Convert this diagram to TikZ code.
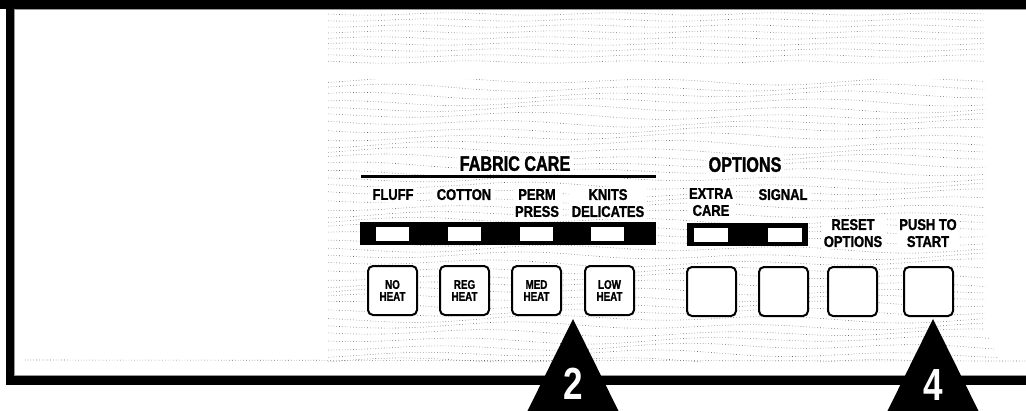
\documentclass[tikz,border=0pt]{standalone}
\usepackage{fontspec}
\setmainfont{Liberation Sans}
\newfontfamily\lblfont{Liberation Sans}[FakeStretch=0.83,FakeBold=1.3]
\newfontfamily\hdrfont{Liberation Sans}[FakeStretch=0.77,FakeBold=1.5]
\newfontfamily\btnfont{Liberation Sans}[FakeStretch=0.78,FakeBold=1.2]
\newfontfamily\digfont{Liberation Sans}[FakeStretch=0.78]
\tikzset{
  frame/.style={fill=black},
  texline/.style={draw=black!60, line width=0.6pt, dash pattern=on 0.6pt off 2.2pt},
  lbl/.style={font=\lblfont\bfseries\fontsize{15.6}{17}\selectfont, align=center, inner sep=2.5pt, fill=white, text depth=0pt},
  hdr/.style={font=\hdrfont\bfseries\fontsize{21}{22}\selectfont, inner sep=3pt, fill=white, text depth=0pt},
  btn/.style={draw=black, line width=2pt, fill=white, rounded corners=5pt, minimum width=49pt, minimum height=49pt, inner sep=0pt,
              font=\btnfont\bfseries\fontsize{12.6}{12}\selectfont, align=center},
  ledbar/.style={fill=black, inner sep=0pt},
  led/.style={fill=white, inner sep=0pt, minimum width=33pt, minimum height=14pt},
  pointer/.style={fill=black},
  digit/.style={font=\digfont\bfseries\fontsize{45}{45}\selectfont, text=white, inner sep=0pt, text depth=0pt}
}
\begin{document}
\begin{tikzpicture}[x=1pt,y=-1pt]
\useasboundingbox (0,0) rectangle (1026,410);
% texture: upper band
\begin{scope}
  \clip (328,12) rectangle (985,63);
  \foreach \k in {0,...,8} {
    \pgfmathsetmacro\yy{14+6*\k}
    \draw[texline] plot[smooth, domain=328:985, samples=40] (\x,{\yy+1.2*sin(2.2*\x+40*\k)});
  }
\end{scope}
% texture: lower band
\begin{scope}
  \clip (328,79) -- (985,79) -- (985,330) -- (1000,362) -- (328,362) -- cycle;
  \foreach \k in {0,...,40} {
    \pgfmathsetmacro\yy{81+7*\k}
    \draw[texline] plot[smooth, domain=328:1000, samples=60] (\x,{\yy+2.6*sin(1.5*\x+37*\k)+1.5*sin(0.6*\x+71*\k)});
  }
\end{scope}
\coordinate (dl) at (25,360);
\coordinate (dr) at (1026,361);
\draw[texline] (dl) -- (dr);
% frame
\fill[frame] (0,0) rectangle (1026,9);
\fill[frame] (6,0) rectangle (14,385);
\fill[frame] (6,376) rectangle (1026,385);
\draw[black!40, line width=0.6pt] (1026,9.6) -- (14.6,9.6) -- (14.6,375.4) -- (1026,375.4);
% headers
\node[hdr] (fabric) at (515,163.5) {FABRIC CARE};
\node[hdr] (options) at (745,164.5) {OPTIONS};
\fill[black] (361,174.5) rectangle (656,177.5);
% labels
\node[lbl] (fluff) at (393,194.5) {FLUFF};
\node[lbl] (cotton) at (464,194.5) {COTTON};
\node[lbl] (perm) at (537,203) {PERM\\PRESS};
\node[lbl] (knits) at (608,203) {KNITS\\DELICATES};
\node[lbl] (extra) at (711,202) {EXTRA\\CARE};
\node[lbl] (signal) at (783,194.5) {SIGNAL};
\node[lbl] (reset) at (853,233) {RESET\\OPTIONS};
\node[lbl] (push) at (928,233) {PUSH TO\\START};
% LED bars
\node[ledbar, minimum width=296pt, minimum height=23pt] (bar1) at (508,233.5) {};
\node[led] (led1) at (392.5,234) {};
\node[led] (led2) at (464.5,234) {};
\node[led] (led3) at (536,234) {};
\node[led] (led4) at (607.5,234) {};
\node[ledbar, minimum width=121pt, minimum height=23pt] (bar2) at (747.5,234.5) {};
\node[led, minimum width=34pt] (led5) at (711,234.5) {};
\node[led, minimum width=34pt] (led6) at (784.5,234.5) {};
% buttons
\node[btn] (b1) at (392.5,290.5) {NO\\HEAT};
\node[btn] (b2) at (464.5,290.5) {REG\\HEAT};
\node[btn] (b3) at (536.5,290.5) {MED\\HEAT};
\node[btn] (b4) at (609.5,290.5) {LOW\\HEAT};
\node[btn] (b5) at (711.5,291.5) {};
\node[btn] (b6) at (783.5,291.5) {};
\node[btn] (b7) at (852.5,291.5) {};
\node[btn] (b8) at (928.5,291.5) {};
% pointers
\fill[pointer] (573,319) -- (621,416) -- (525,416) -- cycle;
\node[digit] (n2) at (573,384) {2};
\fill[pointer] (933,319) -- (981,416) -- (885,416) -- cycle;
\node[digit] (n4) at (933,385) {4};
\end{tikzpicture}
\end{document}
